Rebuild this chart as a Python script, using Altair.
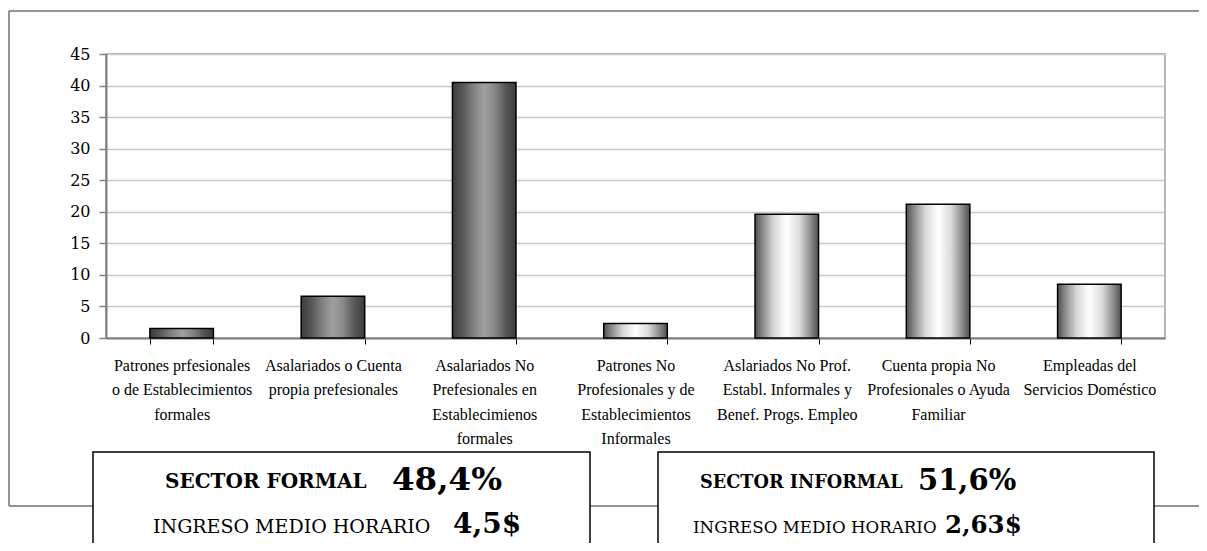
import altair as alt
import pandas as pd

# ---- data ----
categories = [
    "Patrones prfesionales|o de Establecimientos|formales",
    "Asalariados o Cuenta|propia prefesionales",
    "Asalariados No|Prefesionales en|Establecimienos|formales",
    "Patrones No|Profesionales y de|Establecimientos|Informales",
    "Aslariados No Prof.|Establ. Informales y|Benef. Progs. Empleo",
    "Cuenta propia No|Profesionales o Ayuda|Familiar",
    "Empleadas del|Servicios Doméstico",
]
values = [1.5, 6.6, 40.5, 2.3, 19.6, 21.2, 8.5]
sectors = ["formal", "formal", "formal", "informal", "informal", "informal", "informal"]
y_ticks = [0, 5, 10, 15, 20, 25, 30, 35, 40, 45]

formal_texts = ["SECTOR FORMAL", "48,4%", "INGRESO MEDIO HORARIO", "4,5$"]
informal_texts = ["SECTOR INFORMAL", "51,6%", "INGRESO MEDIO HORARIO", "2,63$"]

df = pd.DataFrame({"cat": categories, "value": values, "sector": sectors})
one = pd.DataFrame({"k": [0]})

W, H = 1059, 284
SERIF_X = "Liberation Serif, Times New Roman, serif"
SERIF_Y = "DejaVu Serif, serif"

x_enc = alt.X(
    "cat:N",
    sort=categories,
    scale=alt.Scale(domain=categories, paddingInner=0.58, paddingOuter=0.29),
    axis=alt.Axis(
        title=None, labelAngle=0,
        labelExpr="isValid(datum.value) ? split(datum.value, '|') : ''",
        labelFont=SERIF_X, labelFontSize=16, labelLineHeight=24.5,
        labelColor="black", labelLimit=400, labelOverlap=False,
        labelPadding=13, tickBand="extent", tickSize=6, tickColor="black",
        tickWidth=1, domainColor="#808080", domainWidth=2, grid=False,
    ),
)
y_enc = alt.Y(
    "value:Q",
    scale=alt.Scale(domain=[0, 45], nice=False),
    axis=alt.Axis(
        title=None, values=y_ticks, labelFont=SERIF_Y, labelFontSize=16,
        labelColor="black", labelPadding=9, tickSize=7, tickColor="#808080",
        tickWidth=1.5, domainColor="#808080", domainWidth=2,
        grid=True, gridColor="#c8c8c8", gridWidth=1.5,
    ),
)

def grad(stops):
    return alt.Gradient(
        gradient="linear", x1=0, x2=1, y1=0, y2=0,
        stops=[alt.GradientStop(color=c, offset=o) for o, c in stops],
    )

formal_grad = grad([(0, "#3c3c3c"), (0.15, "#555555"), (0.35, "#858585"),
                    (0.5, "#a0a0a0"), (0.65, "#8a8a8a"), (0.85, "#555555"), (1, "#3c3c3c")])
informal_grad = grad([(0, "#505050"), (0.12, "#8a8a8a"), (0.3, "#d8d8d8"),
                      (0.5, "#ffffff"), (0.7, "#dcdcdc"), (0.88, "#8a8a8a"), (1, "#505050")])

bars_formal = alt.Chart(df).transform_filter(alt.datum.sector == "formal").mark_bar(
    fill=formal_grad, stroke="black", strokeWidth=1.5
).encode(x=x_enc, y=y_enc)
bars_informal = alt.Chart(df).transform_filter(alt.datum.sector == "informal").mark_bar(
    fill=informal_grad, stroke="black", strokeWidth=1.5
).encode(x=x_enc, y=y_enc)

frame_color = "#707070"
frame_top = alt.Chart(one).mark_rule(color=frame_color, strokeWidth=1.5).encode(
    x=alt.value(-97), x2=alt.value(1120), y=alt.value(-43))
frame_left = alt.Chart(one).mark_rule(color=frame_color, strokeWidth=1.5).encode(
    x=alt.value(-97), y=alt.value(-43), y2=alt.value(452))
frame_bottom = alt.Chart(one).mark_rule(color=frame_color, strokeWidth=1.5).encode(
    x=alt.value(-97), x2=alt.value(1120), y=alt.value(452))

box_left = alt.Chart(one).mark_rect(fill="white", stroke="black", strokeWidth=1.5).encode(
    x=alt.value(-13), x2=alt.value(484), y=alt.value(398), y2=alt.value(620))
box_right = alt.Chart(one).mark_rect(fill="white", stroke="black", strokeWidth=1.5).encode(
    x=alt.value(552), x2=alt.value(1048), y=alt.value(398), y2=alt.value(620))

def txt(s, x, y, size, bold):
    return alt.Chart(one).mark_text(
        font=SERIF_Y, fontSize=size, fontWeight="bold" if bold else "normal",
        align="left", baseline="alphabetic", color="black"
    ).encode(x=alt.value(x), y=alt.value(y), text=alt.value(s))

texts = [
    txt(formal_texts[0], 59, 434, 20, True),
    txt(formal_texts[1], 286, 436, 32.5, True),
    txt(formal_texts[2], 47, 479, 19, False),
    txt(formal_texts[3], 347, 479, 28, True),
    txt(informal_texts[0], 594, 434, 17.7, True),
    txt(informal_texts[1], 812, 436, 29, True),
    txt(informal_texts[2], 587, 479, 16.7, False),
    txt(informal_texts[3], 839, 479, 24.5, True),
]

chart = alt.layer(
    frame_top, frame_left, frame_bottom, bars_formal, bars_informal,
    box_left, box_right, *texts
).properties(
    width=W, height=H,
    autosize=alt.AutoSizeParams(type="none"),
    padding={"left": 98, "top": 46, "right": 34, "bottom": 205},
).configure_view(stroke="#a0a0a0", strokeWidth=1.5)

chart.save("out.html", embed_options={"renderer": "svg", "actions": False})
